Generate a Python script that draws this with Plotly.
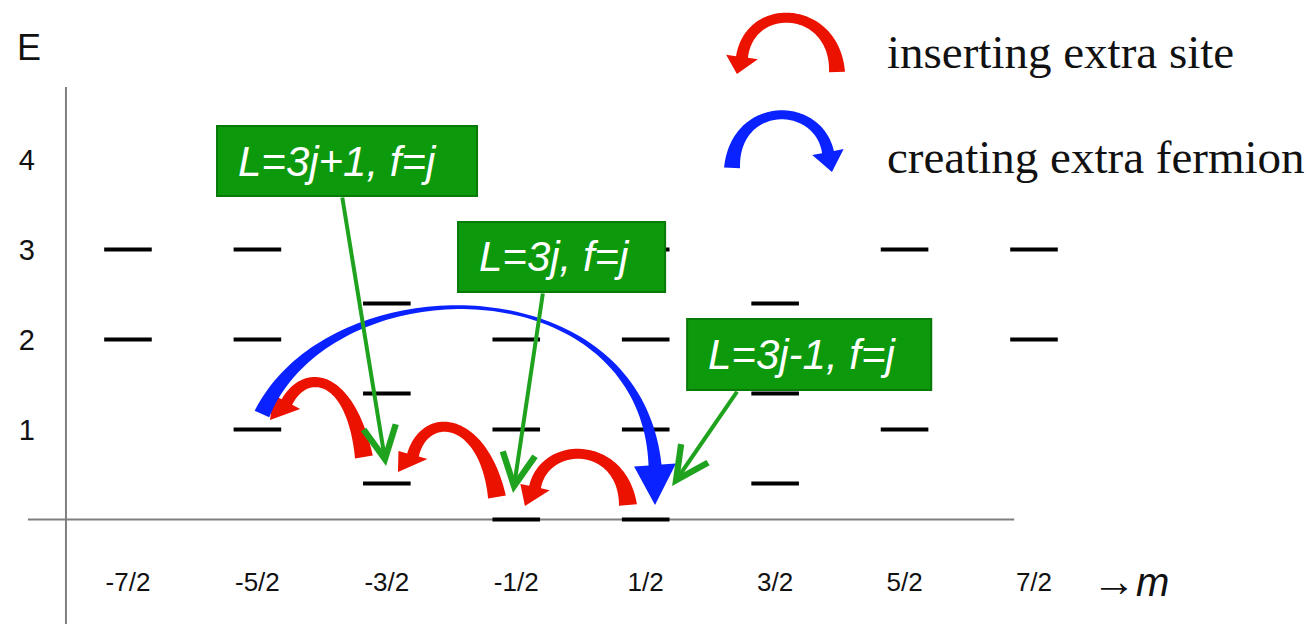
import numpy as np
import plotly.graph_objects as go

# ---------------- data ----------------
# magnetization sectors and their tick labels
M_VALUES = [-3.5, -2.5, -1.5, -0.5, 0.5, 1.5, 2.5, 3.5]
M_LABELS = ["-7/2", "-5/2", "-3/2", "-1/2", "1/2", "3/2", "5/2", "7/2"]

# energy levels: one entry per level (m, E)
level_m = [-3.5, -3.5,
           -2.5, -2.5, -2.5,
           -1.5, -1.5, -1.5,
           -0.5, -0.5, -0.5, -0.5,
           0.5, 0.5, 0.5, 0.5,
           1.5, 1.5, 1.5,
           2.5, 2.5, 2.5,
           3.5, 3.5]
level_E = [3, 2,
           3, 2, 1,
           2.4, 1.4, 0.4,
           3, 2, 1, 0,
           3, 2, 1, 0,
           2.4, 1.4, 0.4,
           3, 2, 1,
           3, 2]

E_TICKS = [1, 2, 3, 4]

# labelled sectors: text, box corners (m0, m1, E0, E1), pointer start, pointer target
box_text = ["L=3j+1, f=j", "L=3j, f=j", "L=3j-1, f=j"]
box_m = [(-2.812, -0.803), (-0.950, 0.650), (0.820, 2.706)]
box_E = [(3.594, 4.372), (2.528, 3.306), (1.439, 2.228)]
pointer_from = [(-1.846, 3.594), (-0.293, 2.528), (1.214, 1.439)]
pointer_to = [(-1.506, 0.594), (-0.525, 0.294), (0.704, 0.372)]

legend_text = ["inserting extra site", "creating extra fermion"]

# ---------------- layout geometry ----------------
W, H = 1308, 624
MARGIN = dict(l=45, r=0, t=0, b=60)
X_RANGE = [-4.141, 5.617]
Y_RANGE = [-0.494, 5.772]
PLOT_W = W - MARGIN["l"] - MARGIN["r"]
PLOT_H = H - MARGIN["t"] - MARGIN["b"]
PX_M = PLOT_W / (X_RANGE[1] - X_RANGE[0])   # pixels per unit of m
PX_E = PLOT_H / (Y_RANGE[1] - Y_RANGE[0])   # pixels per unit of E

RED = "#ec1200"
BLUE = "#0a22ff"
GREEN_FILL = "#0c9a0c"
GREEN_EDGE = "#087a08"
GREEN_LINE = "#1fa31f"
AXIS_GRAY = "#7f7f7f"
SANS = "Liberation Sans, Arial, Helvetica, sans-serif"


def paper_x(m):
    return (m - X_RANGE[0]) / (X_RANGE[1] - X_RANGE[0])


def paper_y(e):
    return (e - Y_RANGE[0]) / (Y_RANGE[1] - Y_RANGE[0])


def curved_arrow(p0, p1, p2, p3, tip, w0, wmid, w1, head_w, tmid=0.5, n=90):
    """Tapered cubic-Bezier arrow; widths in pixels, points in (m, E)."""
    s = np.array([PX_M, PX_E])
    P = np.array([p0, p1, p2, p3], float) * s
    tp = np.array(tip, float) * s
    t = np.linspace(0, 1, n)[:, None]
    pts = ((1 - t) ** 3) * P[0] + 3 * ((1 - t) ** 2) * t * P[1] \
        + 3 * (1 - t) * (t ** 2) * P[2] + (t ** 3) * P[3]
    d = 3 * ((1 - t) ** 2) * (P[1] - P[0]) + 6 * (1 - t) * t * (P[2] - P[1]) \
        + 3 * (t ** 2) * (P[3] - P[2])
    d /= np.linalg.norm(d, axis=1, keepdims=True)
    nrm = np.column_stack([-d[:, 1], d[:, 0]])
    tt = t[:, 0]
    w = np.where(tt < tmid,
                 wmid + (w0 - wmid) * (1 - tt / tmid) ** 2,
                 wmid + (w1 - wmid) * ((tt - tmid) / (1 - tmid)) ** 2)
    left = pts + nrm * w[:, None] / 2
    right = pts - nrm * w[:, None] / 2
    hl = pts[-1] + nrm[-1] * head_w / 2
    hr = pts[-1] - nrm[-1] * head_w / 2
    poly = np.vstack([left, hl[None], tp[None], hr[None], right[::-1]]) / s
    return "M" + " L".join(f"{x:.4f},{y:.4f}" for x, y in poly) + " Z"


fig = go.Figure()

# energy levels as short horizontal bars (line-ew glyph is 1.4 x size long)
fig.add_trace(go.Scatter(
    x=level_m, y=level_E, mode="markers",
    marker=dict(symbol="line-ew", size=34,
                line=dict(width=4, color="#000000")),
    hoverinfo="skip", showlegend=False,
))

shapes = []

# axes lines
shapes.append(dict(type="line", xref="x", yref="paper",
                   x0=-3.979, x1=-3.979, y0=paper_y(4.806), y1=-0.11,
                   line=dict(color=AXIS_GRAY, width=2), layer="below"))
shapes.append(dict(type="line", xref="paper", yref="y",
                   x0=paper_x(-4.273), x1=paper_x(3.347), y0=0, y1=0,
                   line=dict(color=AXIS_GRAY, width=2), layer="below"))

# red arrows: inserting an extra site
red_arrows = [
    [(-1.677, 0.694), (-1.785, 1.639), (-2.132, 1.683), (-2.272, 1.306), (-2.403, 1.106)],
    [(-0.649, 0.250), (-0.757, 1.161), (-1.205, 1.217), (-1.298, 0.717), (-1.414, 0.528)],
    [(0.363, 0.161), (0.317, 0.883), (-0.278, 0.883), (-0.355, 0.361), (-0.433, 0.150)],
]
for a in red_arrows:
    shapes.append(dict(type="path", xref="x", yref="y",
                       path=curved_arrow(*a, w0=18, wmid=10, w1=12, head_w=30),
                       fillcolor=RED, line=dict(width=0), layer="above"))

# blue arrow: creating an extra fermion
blue_arrow = [(-2.465, 1.172), (-1.939, 2.839), (0.456, 2.839), (0.572, 0.606), (0.572, 0.161)]
shapes.append(dict(type="path", xref="x", yref="y",
                   path=curved_arrow(*blue_arrow, w0=16, wmid=3.5, w1=13,
                                     head_w=42, tmid=0.55),
                   fillcolor=BLUE, line=dict(width=0), layer="above"))

# legend glyphs
legend_red = [(1.978, 4.972), (1.962, 5.717), (1.306, 5.772), (1.244, 5.139), (1.205, 4.950)]
legend_blue = [(1.167, 3.906), (1.190, 4.661), (1.831, 4.661), (1.908, 4.083), (1.939, 3.861)]
shapes.append(dict(type="path", xref="x", yref="y",
                   path=curved_arrow(*legend_red, w0=16, wmid=10, w1=12, head_w=32),
                   fillcolor=RED, line=dict(width=0), layer="above"))
shapes.append(dict(type="path", xref="x", yref="y",
                   path=curved_arrow(*legend_blue, w0=16, wmid=9, w1=12, head_w=32),
                   fillcolor=BLUE, line=dict(width=0), layer="above"))

# green label boxes
for (m0, m1), (e0, e1) in zip(box_m, box_E):
    shapes.append(dict(type="rect", xref="x", yref="y",
                       x0=m0, x1=m1, y0=e0, y1=e1,
                       fillcolor=GREEN_FILL, line=dict(color=GREEN_EDGE, width=2),
                       layer="above"))

annotations = []
for txt, (m0, m1), (e0, e1) in zip(box_text, box_m, box_E):
    annotations.append(dict(
        x=m0 + 19 / PX_M, y=(e0 + e1) / 2, xref="x", yref="y",
        xanchor="left", yanchor="middle", showarrow=False,
        text=f"<i>{txt}</i>",
        font=dict(family=SANS, size=42, color="white"),
    ))

for (am, ae), (tm, te) in zip(pointer_from, pointer_to):
    annotations.append(dict(
        x=tm, y=te, ax=am, ay=ae, xref="x", yref="y", axref="x", ayref="y",
        text="", showarrow=True, arrowhead=5, arrowsize=1.6, arrowwidth=4,
        arrowcolor=GREEN_LINE, standoff=0, startstandoff=0,
    ))

# legend labels
for txt, e in zip(legend_text, [5.194, 4.028]):
    annotations.append(dict(
        x=2.349, y=e, xref="x", yref="y", xanchor="left", yanchor="middle",
        showarrow=False, text=txt,
        font=dict(family="Liberation Serif, Times New Roman, serif", size=47, color="#111111"),
    ))

# axis titles
annotations.append(dict(
    x=(29 - MARGIN["l"]) / PLOT_W, y=5.239, xref="paper", yref="y",
    xanchor="center", yanchor="middle", showarrow=False, text="E",
    font=dict(family=SANS, size=36, color="#111111"),
))
annotations.append(dict(
    x=3.93, y=paper_y(-0.672), xref="x", yref="paper",
    xanchor="left", yanchor="middle", showarrow=False,
    text="<span style='font-size:44px'>→</span><i>m</i>",
    font=dict(family=SANS, size=40, color="#111111"),
))

fig.update_layout(
    width=W, height=H, margin=MARGIN,
    paper_bgcolor="white", plot_bgcolor="white",
    showlegend=False,
    shapes=shapes, annotations=annotations,
    xaxis=dict(range=X_RANGE, showgrid=False, zeroline=False, showline=False,
               tickmode="array", tickvals=M_VALUES, ticktext=M_LABELS, ticks="",
               tickfont=dict(family=SANS, size=26, color="#111111"),
               fixedrange=True),
    yaxis=dict(range=Y_RANGE, showgrid=False, zeroline=False, showline=False,
               tickmode="array", tickvals=E_TICKS, ticktext=[str(v) for v in E_TICKS], ticks="",
               tickfont=dict(family=SANS, size=29, color="#111111"),
               ticklabelstandoff=9, fixedrange=True),
)

fig.write_html("out.html")
